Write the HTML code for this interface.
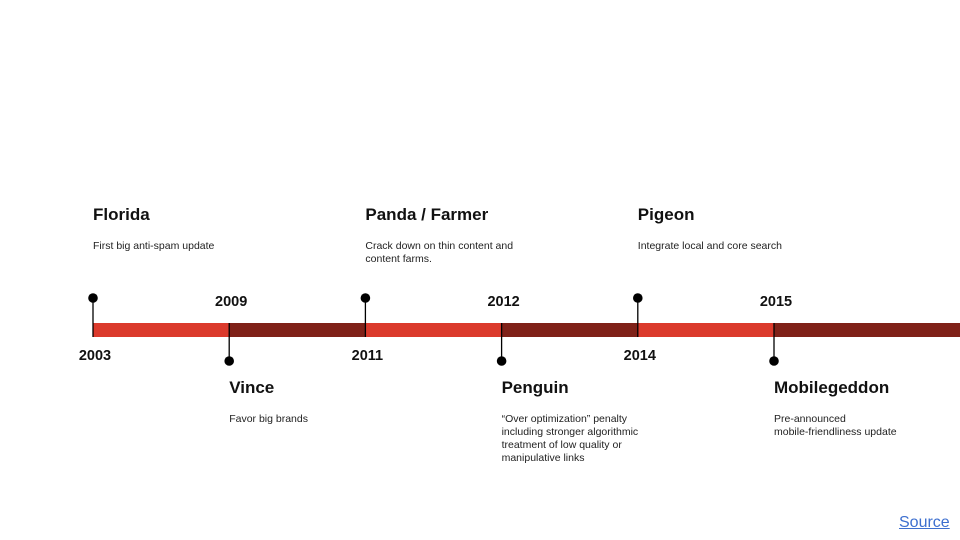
<!DOCTYPE html>
<html><head><meta charset="utf-8"><style>
body{margin:0;width:960px;height:540px;background:#fff;overflow:hidden;font-family:"Liberation Sans",Arial,sans-serif;position:relative}
.t{position:absolute;font-weight:bold;font-size:17px;color:#111;white-space:nowrap}
.d{position:absolute;font-size:10.5px;line-height:13px;color:#222;width:152px}
.y{position:absolute;font-weight:bold;font-size:14.5px;color:#111;transform:translateX(-50%);white-space:nowrap}
#source{position:absolute;left:899px;top:514px;font-size:16px;color:#3d6fcf;text-decoration:underline}
</style></head><body>
<svg id="chart" width="960" height="540" style="position:absolute;left:0;top:0"></svg>
<div id="labels"></div>
<a id="source">Source</a>
<script>
const years=[2003,2009,2011,2012,2014,2015];
const titles=["Florida","Vince","Panda / Farmer","Penguin","Pigeon","Mobilegeddon"];
const descs=["First big anti-spam update","Favor big brands","Crack down on thin content and content farms.","\u201cOver optimization\u201d penalty including stronger algorithmic treatment of low quality or manipulative links","Integrate local and core search","Pre-announced<br>mobile-friendliness update"];
const sides=["up","down","up","down","up","down"];
const x0=93,step=136.2,barTop=323,barH=14;
const xs=i=>x0+i*step;
const svg=document.getElementById('chart'),L=document.getElementById('labels');
const NS='http://www.w3.org/2000/svg';
function mk(t,a){const e=document.createElementNS(NS,t);for(const k in a)e.setAttribute(k,a[k]);svg.appendChild(e);return e;}
years.forEach((yr,i)=>{
  const x=xs(i),x2=i<years.length-1?xs(i+1):960;
  const seg=mk('rect',{x:x,y:barTop,width:x2-x,height:barH,fill:i%2?'#7f2118':'#db3a2c'});
  
  
});
years.forEach((yr,i)=>{
  const x=xs(i),up=sides[i]==='up';
  const dy=up?298:361;
  const ln=mk('line',{x1:x,x2:x,y1:dy,y2:up?barTop+barH:barTop,stroke:'#000','stroke-width':1.3});
  
  
  const c=mk('circle',{cx:x,cy:dy,r:4.8,fill:'#000'});
  
  
  const y=document.createElement('div');y.className='y';y.textContent=yr;
  y.style.left=(x+2)+'px';y.style.top=(up?348:294)+'px';
  
  
  L.appendChild(y);
  const t=document.createElement('div');t.className='t';t.textContent=titles[i];
  t.style.left=x+'px';t.style.top=(up?205:378)+'px';
  
  
  L.appendChild(t);
  const d=document.createElement('div');d.className='d';d.innerHTML=descs[i];
  d.style.left=x+'px';d.style.top=(up?240:413)+'px';
  
  
  L.appendChild(d);
});
</script>
</body></html>
